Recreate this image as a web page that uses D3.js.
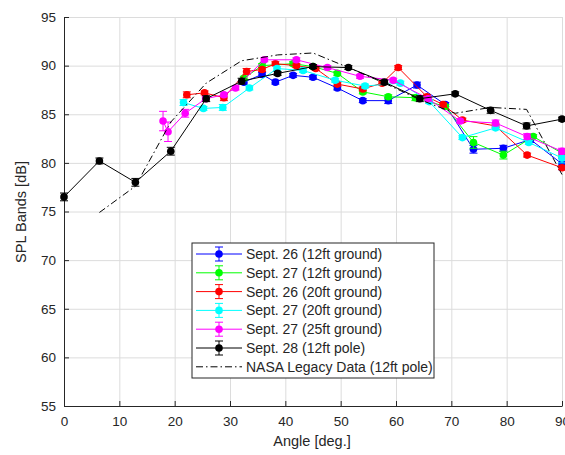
<!DOCTYPE html>
<html>
<head>
<meta charset="utf-8">
<script src="https://cdn.jsdelivr.net/npm/d3@7"></script>
<style>
  body { margin: 0; background: #fff; }
  svg { display: block; font-family: "Liberation Sans", Arial, sans-serif; }
  .grid line { stroke: #dcdcdc; stroke-width: 1; }
  .grid path { stroke: none; }
  .axis path, .axis line { stroke: #262626; }
  .axis text { fill: #262626; font-size: 13.5px; }
</style>
</head>
<body>
<script>
// series: [angle, dB, err]
const sep26_12 = [[32.5,88.3,0.2],[35.8,89.1,0.2],[38.2,88.3,0.2],[41.4,89.0,0.2],[45,88.8,0.2],[49.4,87.7,0.2],[54,86.4,0.2],[58.6,86.4,0.3],[63.8,88.0,0.3],[68.9,86.0,0.2],[74,81.4,0.4],[79.4,81.5,0.3],[84.3,82.4,0.3],[90,79.9,0.6]];
const sep27_12 = [[32.5,88.7,0.2],[35.8,90.0,0.2],[41.4,90.2,0.2],[45,89.9,0.2],[49.4,89.2,0.2],[54,87.3,0.2],[58.6,86.8,0.2],[63.5,86.7,0.3],[68.9,85.8,0.2],[74,82.1,0.6],[79.4,80.8,0.4],[84.8,82.7,0.2],[90,81.0,0.3]];
const sep26_20 = [[22.2,87.0,0.3],[25.4,87.2,0.2],[28.9,86.7,0.3],[33,89.4,0.3],[35.8,89.6,0.2],[38.2,90.2,0.2],[42,90.0,0.2],[45.5,89.7,0.2],[49.4,88.1,0.2],[54,87.6,0.2],[57.5,88.2,0.2],[60.4,89.8,0.2],[65.6,86.8,0.2],[68.5,86.0,0.2],[72,84.4,0.2],[78,83.8,0.2],[83.7,80.8,0.2],[90,79.5,0.2]];
const sep27_20 = [[21.6,86.2,0.3],[25.2,85.6,0.2],[28.7,85.7,0.3],[33.5,87.7,0.2],[38.5,89.7,0.2],[43.2,89.5,0.2],[49,88.5,0.2],[54.4,87.9,0.2],[60.8,88.2,0.2],[66,86.3,0.2],[72,82.6,0.2],[78,83.6,0.2],[84,82.1,0.2],[90,80.5,0.5]];
const sep27_25 = [[17.9,84.3,1.0],[18.8,83.2,1.0],[21.9,85.1,0.4],[25.6,86.6,0.2],[28.9,87.0,0.2],[31,87.7,0.2],[36.2,90.6,0.2],[42,90.6,0.2],[47.6,89.8,0.2],[53.5,88.9,0.2],[59.5,88.5,0.2],[65.8,86.6,0.2],[71.6,84.3,0.2],[78,84.1,0.3],[83.7,82.7,0.3],[90,81.2,0.3]];
const sep28_pole = [[0,76.5,0.4],[6.4,80.2,0.3],[12.9,78.0,0.4],[19.3,81.2,0.4],[25.7,86.6,0.3],[32.1,88.4,0.3],[38.6,89.2,0.2],[45,89.9,0.2],[51.4,89.8,0.2],[57.9,88.3,0.2],[64.3,86.6,0.3],[70.7,87.1,0.2],[77.1,85.4,0.3],[83.6,83.8,0.3],[90,84.5,0.2]];
const nasa = [[6.4,74.9],[12.9,77.6],[19.3,84.2],[25.7,88.2],[32.1,90.5],[38.6,91.1],[45,91.3],[51.4,89.8],[57.9,88.2],[64.3,86.5],[70.7,85.1],[77.1,85.7],[83.6,85.5],[90,78.8]];

const xTicks = [0,10,20,30,40,50,60,70,80,90];
const yTicks = [55,60,65,70,75,80,85,90,95];

const series = [
  {name: "Sept. 26 (12ft ground)", color: "#0000ff", data: sep26_12},
  {name: "Sept. 27 (12ft ground)", color: "#00ff00", data: sep27_12},
  {name: "Sept. 26 (20ft ground)", color: "#ff0000", data: sep26_20},
  {name: "Sept. 27 (20ft ground)", color: "#00ffff", data: sep27_20},
  {name: "Sept. 27 (25ft ground)", color: "#ff00ff", data: sep27_25},
  {name: "Sept. 28 (12ft pole)", color: "#000000", data: sep28_pole}
];

const W = 565, H = 455;
const svg = d3.select("body").append("svg").attr("width", W).attr("height", H);

const x = d3.scaleLinear().domain([0, 90]).range([64, 562]);
const y = d3.scaleLinear().domain([55, 95]).range([406, 17]);

// grid
svg.append("g").attr("class", "grid")
  .attr("transform", "translate(0,406)")
  .call(d3.axisBottom(x).tickValues(xTicks).tickSize(-389).tickFormat(""));
svg.append("g").attr("class", "grid")
  .attr("transform", "translate(64,0)")
  .call(d3.axisLeft(y).tickValues(yTicks).tickSize(-498).tickFormat(""));

// axes
svg.append("g").attr("class", "axis")
  .attr("transform", "translate(0,406)")
  .call(d3.axisBottom(x).tickValues(xTicks).tickSizeInner(-5).tickSizeOuter(0).tickPadding(10));
svg.append("g").attr("class", "axis")
  .attr("transform", "translate(64,0)")
  .call(d3.axisLeft(y).tickValues(yTicks).tickSizeInner(-5).tickSizeOuter(0).tickPadding(8));

svg.append("text").attr("x", 312).attr("y", 446).attr("text-anchor", "middle")
  .attr("fill", "#262626").style("font-size", "14.5px").text("Angle [deg.]");
svg.append("text").attr("transform", "translate(26,212) rotate(-90)").attr("text-anchor", "middle")
  .attr("fill", "#262626").style("font-size", "14.5px").text("SPL Bands [dB]");

const line = d3.line().x(d => x(d[0])).y(d => y(d[1]));
const cap = 4;

series.forEach(s => {
  const g = svg.append("g");
  g.append("path").attr("d", line(s.data)).attr("fill", "none")
    .attr("stroke", s.color).attr("stroke-width", 1);
  const eb = g.selectAll(".eb").data(s.data).enter().append("g");
  eb.append("line").attr("x1", d => x(d[0])).attr("x2", d => x(d[0]))
    .attr("y1", d => y(d[1] - d[2])).attr("y2", d => y(d[1] + d[2]))
    .attr("stroke", s.color);
  [-1, 1].forEach(sgn => {
    eb.append("line").attr("x1", d => x(d[0]) - cap).attr("x2", d => x(d[0]) + cap)
      .attr("y1", d => y(d[1] + sgn * d[2])).attr("y2", d => y(d[1] + sgn * d[2]))
      .attr("stroke", s.color);
  });
  g.selectAll("circle").data(s.data).enter().append("circle")
    .attr("cx", d => x(d[0])).attr("cy", d => y(d[1])).attr("r", 3.8)
    .attr("fill", s.color);
});

svg.append("path").attr("d", line(nasa)).attr("fill", "none")
  .attr("stroke", "#000").attr("stroke-width", 1).attr("stroke-dasharray", "7,3,1.5,3");

// legend
const lg = svg.append("g");
lg.append("rect").attr("x", 192).attr("y", 243).attr("width", 242).attr("height", 135)
  .attr("fill", "#fff").attr("stroke", "#262626").attr("stroke-width", 1);
const items = series.concat([{name: "NASA Legacy Data (12ft pole)", color: "#000", dashed: true}]);
items.forEach((s, i) => {
  const cy = 254 + i * 18.8;
  const it = lg.append("g");
  it.append("line").attr("x1", 196).attr("x2", 242).attr("y1", cy).attr("y2", cy)
    .attr("stroke", s.color).attr("stroke-dasharray", s.dashed ? "7,3,1.5,3" : null);
  if (!s.dashed) {
    it.append("line").attr("x1", 219).attr("x2", 219).attr("y1", cy - 7).attr("y2", cy + 7).attr("stroke", s.color);
    it.append("line").attr("x1", 215).attr("x2", 223).attr("y1", cy - 7).attr("y2", cy - 7).attr("stroke", s.color);
    it.append("line").attr("x1", 215).attr("x2", 223).attr("y1", cy + 7).attr("y2", cy + 7).attr("stroke", s.color);
    it.append("circle").attr("cx", 219).attr("cy", cy).attr("r", 3.8).attr("fill", s.color);
  }
  it.append("text").attr("x", 246).attr("y", cy + 5).attr("fill", "#262626")
    .style("font-size", "14px").text(s.name);
});
</script>
</body>
</html>
